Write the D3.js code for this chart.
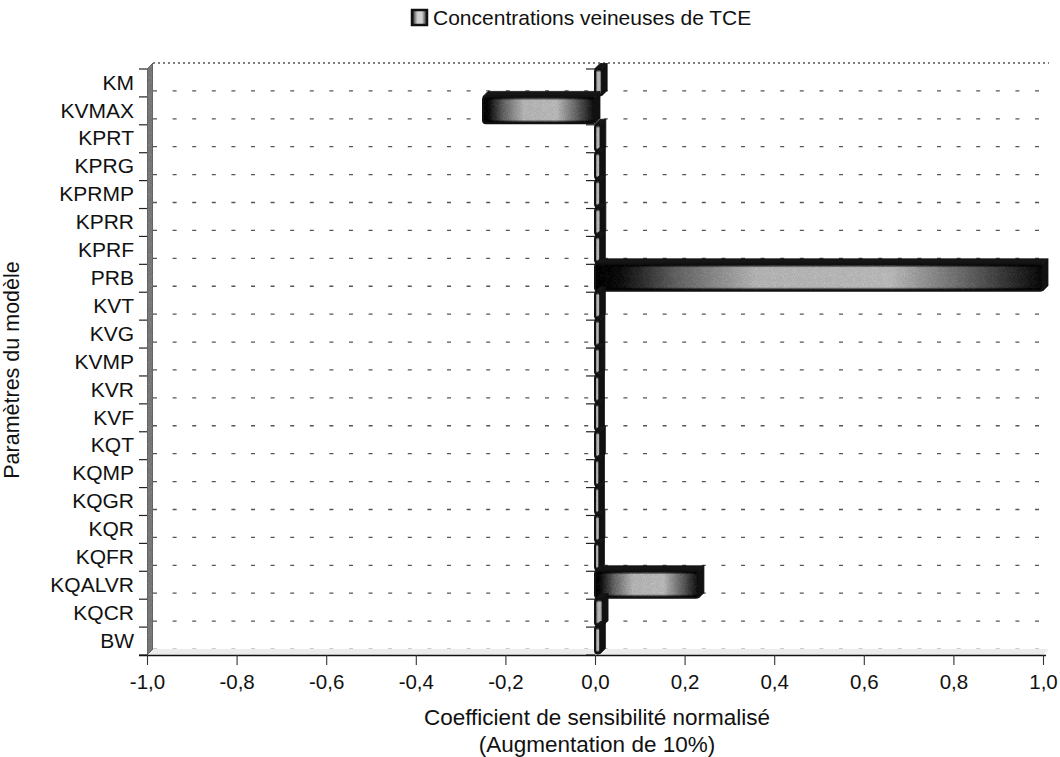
<!DOCTYPE html>
<html>
<head>
<meta charset="utf-8">
<script src="https://cdn.jsdelivr.net/npm/d3@7"></script>
<style>
  html, body { margin: 0; padding: 0; background: #fff; }
  svg { display: block; font-family: "Liberation Sans", Arial, Helvetica, sans-serif; }
</style>
</head>
<body>
<svg id="chart" width="1060" height="757"></svg>
<script>
// Normalised sensitivity coefficients (10 % increase) of venous TCE concentration
const categories = ["KM", "KVMAX", "KPRT", "KPRG", "KPRMP", "KPRR", "KPRF", "PRB", "KVT", "KVG",
                    "KVMP", "KVR", "KVF", "KQT", "KQMP", "KQGR", "KQR", "KQFR", "KQALVR", "KQCR", "BW"];
const values = [0.016, -0.25, 0.013, 0.012, 0.012, 0.013, 0.012, 1.0, 0.012, 0.011,
                0.011, 0.01, 0.01, 0.012, 0.01, 0.01, 0.011, 0.01, 0.232, 0.018, 0.012];
const xTicks = [-1.0, -0.8, -0.6, -0.4, -0.2, 0.0, 0.2, 0.4, 0.6, 0.8, 1.0];
const seriesName = "Concentrations veineuses de TCE";
const xTitle = ["Coefficient de sensibilité normalisé", "(Augmentation de 10%)"];
const yTitle = "Paramètres du modèle";

const data = categories.map((c, i) => ({ cat: c, val: values[i] }));

const svg = d3.select("#chart");
const plotLeft = 147, plotRight = 1043, plotTop = 69, plotBottom = 655;
const depthX = 6, depthY = 6;   // 3-D offset of the back wall
const barDepth = 5;              // 3-D offset of each bar's top and end faces

const x = d3.scaleLinear().domain([-1, 1]).range([plotLeft, plotRight]);
const y = d3.scaleBand().domain(categories).range([plotTop, plotBottom]);

const fmt = d => (d < 0 ? "-" : "") + Math.abs(d).toFixed(1).replace(".", ",");

// ---- gradients and grain --------------------------------------------
const defs = svg.append("defs");
const g1 = defs.append("linearGradient").attr("id", "barGrad")
  .attr("x1", 0).attr("x2", 1).attr("y1", 0).attr("y2", 0);
[[0, "#0a0a0a"], [0.06, "#222"], [0.18, "#777"], [0.36, "#cdcdcd"],
 [0.66, "#d2d2d2"], [0.85, "#707070"], [1, "#1a1a1a"]]
  .forEach(([o, c]) => g1.append("stop").attr("offset", o).attr("stop-color", c));
const g2 = defs.append("linearGradient").attr("id", "barShade")
  .attr("x1", 0).attr("x2", 0).attr("y1", 0).attr("y2", 1);
[[0, 0.92], [0.07, 0.65], [0.14, 0.05], [0.87, 0.05], [0.94, 0.65], [1, 0.92]]
  .forEach(([o, a]) => g2.append("stop").attr("offset", o).attr("stop-color", "#000").attr("stop-opacity", a));

const grain = defs.append("filter").attr("id", "grain")
  .attr("x", 0).attr("y", 0).attr("width", 1).attr("height", 1)
  .attr("color-interpolation-filters", "sRGB");
grain.append("feTurbulence").attr("type", "fractalNoise").attr("baseFrequency", 1.1)
  .attr("numOctaves", 1).attr("seed", 4).attr("result", "noise");
grain.append("feColorMatrix").attr("in", "noise").attr("type", "saturate").attr("values", 0).attr("result", "gnoise");
grain.append("feComposite").attr("in", "SourceGraphic").attr("in2", "gnoise")
  .attr("operator", "arithmetic").attr("k1", 0).attr("k2", 1).attr("k3", 0.34).attr("k4", -0.17)
  .attr("result", "mixed");
grain.append("feComposite").attr("in", "mixed").attr("in2", "SourceGraphic").attr("operator", "in");

// ---- back wall grid --------------------------------------------------
const grid = svg.append("g");
const n = categories.length;
for (let i = 0; i <= n; i++) {
  const yy = plotTop + i * y.step() - depthY;
  grid.append("line")
    .attr("x1", plotLeft + depthX).attr("x2", plotRight + depthX)
    .attr("y1", yy).attr("y2", yy)
    .attr("stroke", i === n ? "#bbb" : "#555")
    .attr("stroke-width", 1.3)
    .attr("stroke-dasharray", i === 0 ? "2 3" : "4 15.6");
}

// floor
svg.append("polygon")
  .attr("points", [[plotLeft, plotBottom], [plotLeft + depthX, plotBottom - depthY],
                   [plotRight + depthX, plotBottom - depthY], [plotRight, plotBottom]].join(" "))
  .attr("fill", "#ececec");

// left wall
svg.append("polygon")
  .attr("points", [[plotLeft, plotTop], [plotLeft + depthX, plotTop - depthY],
                   [plotLeft + depthX, plotBottom - depthY], [plotLeft, plotBottom]].join(" "))
  .attr("fill", "#8a8a8a").attr("stroke", "#555").attr("stroke-width", 0.8)
  .attr("filter", "url(#grain)");

// category tick marks on the wall and at the zero crossing
const ticks = svg.append("g").attr("stroke", "#222").attr("stroke-width", 1.2);
for (let i = 0; i <= n; i++) {
  const yy = plotTop + i * y.step();
  ticks.append("line").attr("x1", plotLeft - 8).attr("x2", plotLeft).attr("y1", yy).attr("y2", yy);
  ticks.append("line").attr("x1", x(0) - 9).attr("x2", x(0)).attr("y1", yy).attr("y2", yy);
}

// ---- bars ------------------------------------------------------------
const bars = svg.append("g");
data.forEach(d => {
  const x0 = Math.min(x(0), x(d.val)), x1 = Math.max(x(0), x(d.val));
  const y0 = y(d.cat) - 0.5, y1 = y(d.cat) + y.step() - 1.5;
  const g = bars.append("g");
  // top face
  g.append("polygon")
    .attr("points", [[x0, y0], [x0 + barDepth, y0 - barDepth], [x1 + barDepth, y0 - barDepth], [x1, y0]].join(" "))
    .attr("fill", "#161616").attr("stroke", "#111").attr("stroke-width", 0.8);
  // end face
  g.append("polygon")
    .attr("points", [[x1, y0], [x1 + barDepth, y0 - barDepth], [x1 + barDepth, y1 - barDepth], [x1, y1]].join(" "))
    .attr("fill", "#111").attr("stroke", "#111").attr("stroke-width", 0.8);
  // front face
  const face = g.append("g").attr("filter", "url(#grain)");
  face.append("rect")
    .attr("x", x0).attr("y", y0).attr("width", x1 - x0).attr("height", y1 - y0)
    .attr("rx", 3).attr("fill", "url(#barGrad)");
  face.append("rect")
    .attr("x", x0).attr("y", y0).attr("width", x1 - x0).attr("height", y1 - y0)
    .attr("rx", 3).attr("fill", "url(#barShade)");
  g.append("rect")
    .attr("x", x0).attr("y", y0).attr("width", x1 - x0).attr("height", y1 - y0)
    .attr("rx", 3).attr("fill", "none")
    .attr("stroke", "#111").attr("stroke-width", 2);
});

// ---- axes ------------------------------------------------------------
const xAxis = svg.append("g")
  .attr("transform", `translate(0,${plotBottom})`)
  .call(d3.axisBottom(x).tickValues(xTicks).tickFormat(fmt).tickSize(10).tickSizeOuter(0).tickPadding(9));
xAxis.select(".domain").attr("stroke", "#111").attr("stroke-width", 1.3)
  .attr("d", `M${plotLeft - 8},0.5H${plotRight + 3}`);
xAxis.selectAll(".tick line").attr("stroke", "#333").attr("stroke-width", 1.1);
xAxis.selectAll(".tick text").attr("font-size", 20.5).attr("fill", "#111")
  .attr("font-family", "'Liberation Sans', Arial, sans-serif");

const yAxis = svg.append("g")
  .attr("transform", `translate(${plotLeft},0)`)
  .call(d3.axisLeft(y).tickSize(0).tickPadding(13));
yAxis.select(".domain").remove();
yAxis.selectAll(".tick text").attr("font-size", 21).attr("fill", "#111")
  .attr("font-family", "'Liberation Sans', Arial, sans-serif");

// ---- titles and legend ----------------------------------------------
const xt = svg.append("text").attr("text-anchor", "middle").attr("font-size", 22.5).attr("fill", "#111");
xt.append("tspan").attr("x", x(0) + 2).attr("y", 725).text(xTitle[0]);
xt.append("tspan").attr("x", x(0) + 2).attr("y", 752).text(xTitle[1]);

svg.append("text")
  .attr("transform", `translate(19,${(plotTop + plotBottom) / 2 + 8}) rotate(-90)`)
  .attr("text-anchor", "middle").attr("font-size", 21.5).attr("fill", "#111")
  .text(yTitle);

const legend = svg.append("g").attr("transform", "translate(412,10)");
legend.append("rect").attr("width", 15).attr("height", 15)
  .attr("fill", "url(#barGrad)").attr("stroke", "#111").attr("stroke-width", 2.5);
legend.append("text").attr("x", 21).attr("y", 15).attr("font-size", 21).attr("fill", "#111")
  .text(seriesName);
</script>
</body>
</html>
